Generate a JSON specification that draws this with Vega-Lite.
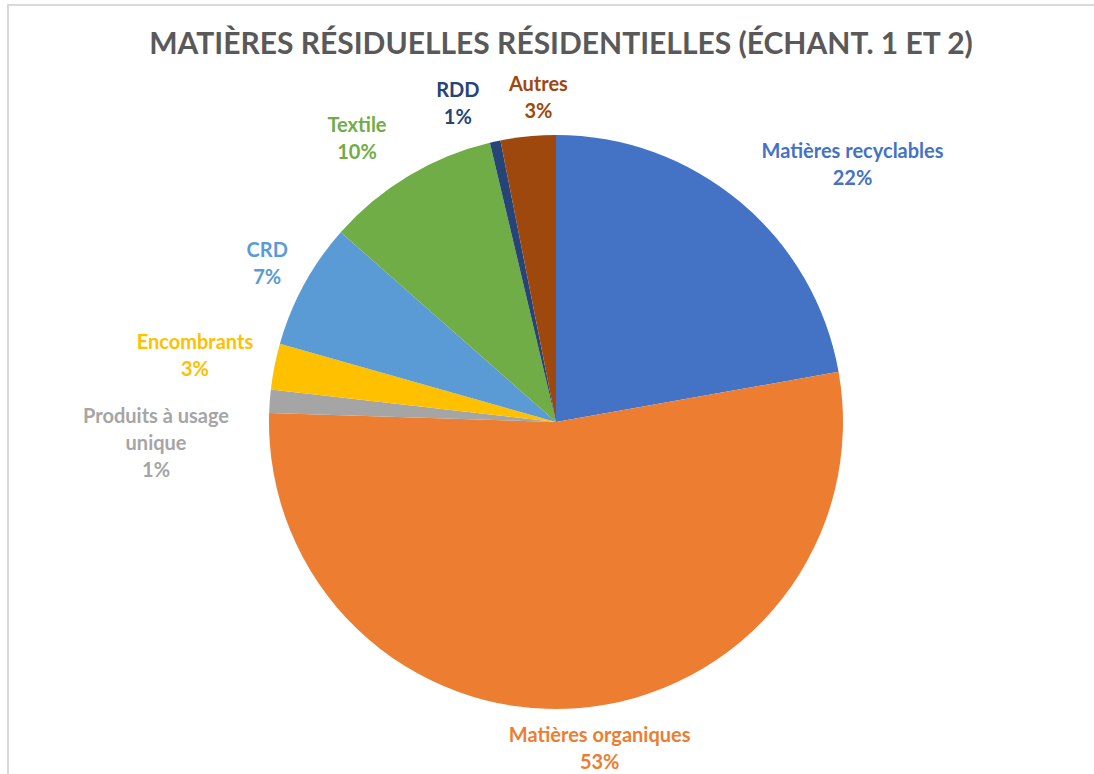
{
  "$schema": "https://vega.github.io/schema/vega-lite/v6.json",
  "autosize": {"type": "none"},
  "padding": {"left": 8, "top": 5, "right": -14, "bottom": -21},
  "width": 1100,
  "height": 790,
  "background": "white",
  "config": {"view": {"stroke": null}, "font": "Lato"},
  "title": {
    "text": "MATIÈRES RÉSIDUELLES RÉSIDENTIELLES (ÉCHANT. 1 ET 2)",
    "font": "Lato",
    "fontSize": 30,
    "fontWeight": "bold",
    "color": "#595959",
    "anchor": "middle",
    "offset": -56,
    "dx": 3
  },
  "layer": [
    {
      "data": {"values": [{"cadre": "bordure"}]},
      "mark": {"type": "rect", "fill": null, "stroke": "#D9D9D9", "strokeWidth": 2},
      "encoding": {}
    },
    {
      "data": {
        "values": [
          {"categorie": "Matières recyclables", "valeur": 22.2, "ordre": 1},
          {"categorie": "Matières organiques", "valeur": 53.3, "ordre": 2},
          {"categorie": "Produits à usage unique", "valeur": 1.3, "ordre": 3},
          {"categorie": "Encombrants", "valeur": 2.6, "ordre": 4},
          {"categorie": "CRD", "valeur": 7.1, "ordre": 5},
          {"categorie": "Textile", "valeur": 9.8, "ordre": 6},
          {"categorie": "RDD", "valeur": 0.6, "ordre": 7},
          {"categorie": "Autres", "valeur": 3.1, "ordre": 8}
        ]
      },
      "transform": [
        {"calculate": "(datum.categorie === 'Produits à usage unique' ? 'Produits à usage\\nunique' : datum.categorie) + '\\n' + format(datum.valeur / 100, '.0%')", "as": "etiquette"}
      ],
      "encoding": {
        "theta": {"field": "valeur", "type": "quantitative", "stack": true},
        "order": {"field": "ordre", "type": "quantitative"},
        "color": {
          "field": "categorie",
          "type": "nominal",
          "legend": null,
          "scale": {
            "domain": ["Matières recyclables", "Matières organiques", "Produits à usage unique", "Encombrants", "CRD", "Textile", "RDD", "Autres"],
            "range": ["#4472C4", "#ED7D31", "#A5A5A5", "#FFC000", "#5B9BD5", "#70AD47", "#264478", "#9E480E"]
          }
        }
      },
      "layer": [
        {"mark": {"type": "arc", "outerRadius": 287, "xOffset": -2, "yOffset": 22}},
        {
          "mark": {"type": "text", "radius": 387, "xOffset": -2, "yOffset": 22, "dx": 48, "dy": 27, "fontSize": 20, "fontWeight": "bold", "lineBreak": "\n", "lineHeight": 27, "align": "center", "baseline": "middle"},
          "encoding": {"text": {"condition": {"test": "datum.categorie === 'Matières recyclables'", "field": "etiquette"}, "value": ""}}
        },
        {
          "mark": {"type": "text", "radius": 328, "xOffset": -2, "yOffset": 22, "dx": 20, "dy": -13.5, "fontSize": 20, "fontWeight": "bold", "lineBreak": "\n", "lineHeight": 27, "align": "center", "baseline": "middle"},
          "encoding": {"text": {"condition": {"test": "datum.categorie === 'Matières organiques'", "field": "etiquette"}, "value": ""}}
        },
        {
          "mark": {"type": "text", "radius": 398, "xOffset": -2, "yOffset": 22, "dx": -3, "dy": 23.5, "fontSize": 20, "fontWeight": "bold", "lineBreak": "\n", "lineHeight": 27, "align": "center", "baseline": "middle"},
          "encoding": {"text": {"condition": {"test": "datum.categorie === 'Produits à usage unique'", "field": "etiquette"}, "value": ""}}
        },
        {
          "mark": {"type": "text", "radius": 367, "xOffset": -2, "yOffset": 22, "dx": -1, "dy": -8, "fontSize": 20, "fontWeight": "bold", "lineBreak": "\n", "lineHeight": 27, "align": "center", "baseline": "middle"},
          "encoding": {"text": {"condition": {"test": "datum.categorie === 'Encombrants'", "field": "etiquette"}, "value": ""}}
        },
        {
          "mark": {"type": "text", "radius": 329, "xOffset": -2, "yOffset": 22, "dy": -13, "fontSize": 20, "fontWeight": "bold", "lineBreak": "\n", "lineHeight": 27, "align": "center", "baseline": "middle"},
          "encoding": {"text": {"condition": {"test": "datum.categorie === 'CRD'", "field": "etiquette"}, "value": ""}}
        },
        {
          "mark": {"type": "text", "radius": 346, "xOffset": -2, "yOffset": 22, "dx": -21, "dy": 1, "fontSize": 20, "fontWeight": "bold", "lineBreak": "\n", "lineHeight": 27, "align": "center", "baseline": "middle"},
          "encoding": {"text": {"condition": {"test": "datum.categorie === 'Textile'", "field": "etiquette"}, "value": ""}}
        },
        {
          "mark": {"type": "text", "radius": 331, "xOffset": -2, "yOffset": 22, "dx": -28, "dy": -8, "fontSize": 20, "fontWeight": "bold", "lineBreak": "\n", "lineHeight": 27, "align": "center", "baseline": "middle"},
          "encoding": {"text": {"condition": {"test": "datum.categorie === 'RDD'", "field": "etiquette"}, "value": ""}}
        },
        {
          "mark": {"type": "text", "radius": 325, "xOffset": -2, "yOffset": 22, "dx": 14, "dy": -13.5, "fontSize": 20, "fontWeight": "bold", "lineBreak": "\n", "lineHeight": 27, "align": "center", "baseline": "middle"},
          "encoding": {"text": {"condition": {"test": "datum.categorie === 'Autres'", "field": "etiquette"}, "value": ""}}
        }
      ]
    }
  ]
}
